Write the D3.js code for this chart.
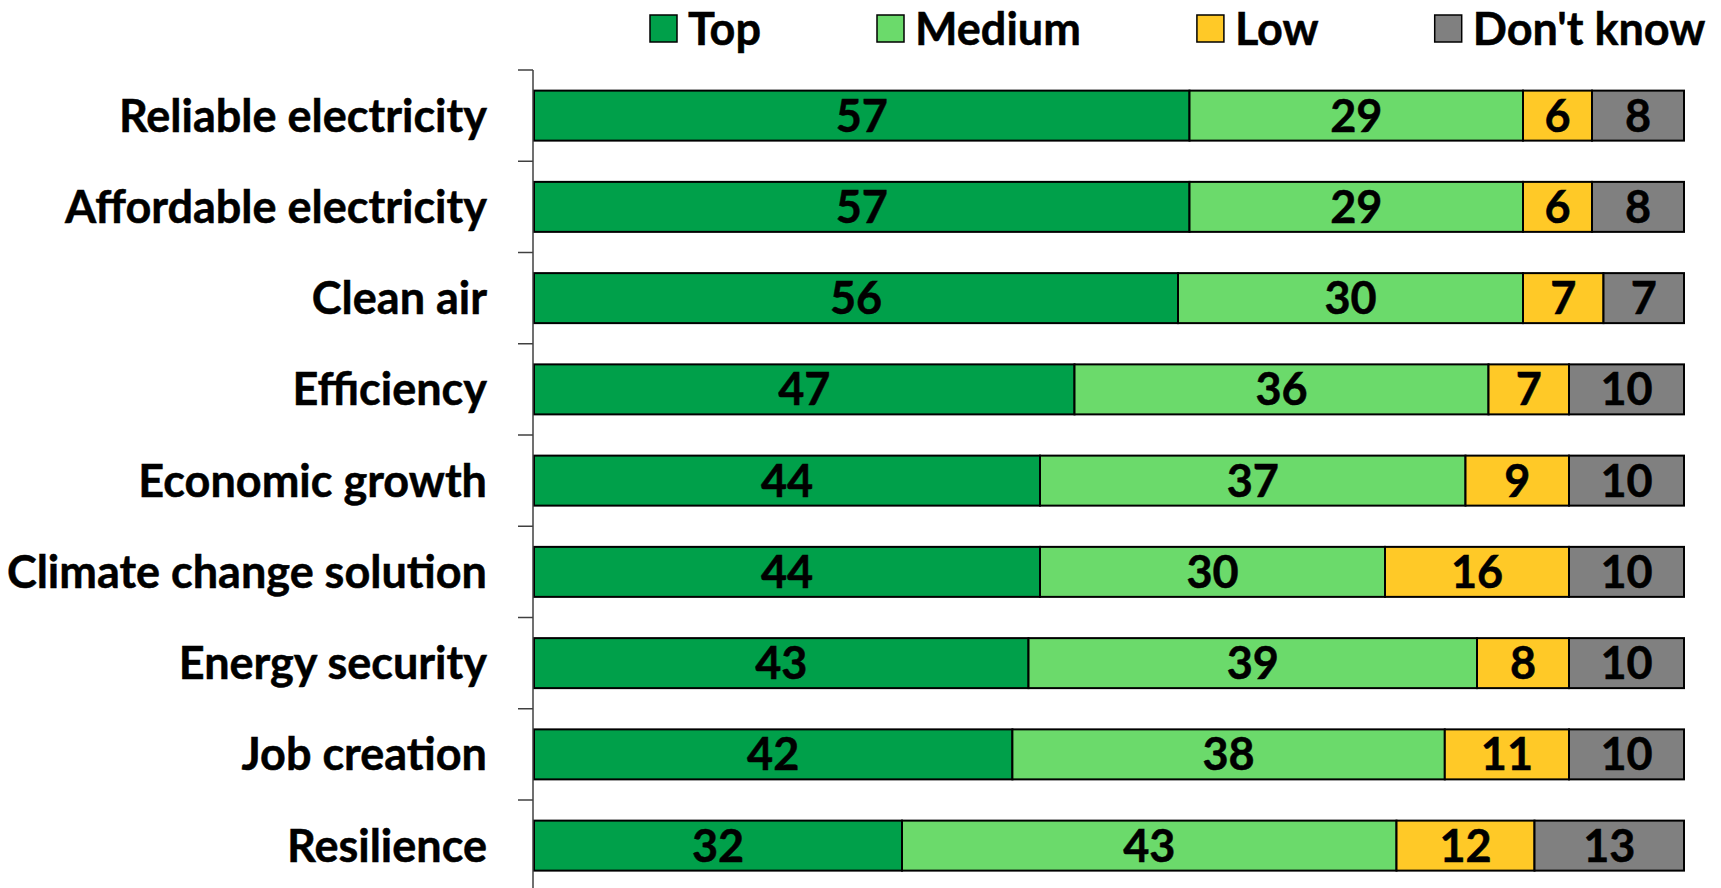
<!DOCTYPE html>
<html>
<head>
<meta charset="utf-8">
<script src="https://cdn.jsdelivr.net/npm/d3@7"></script>
<style>
  body { margin: 0; background: #fff; }
  text { font-family: Lato, "Open Sans", sans-serif; font-weight: bold; fill: #000; stroke: #000; stroke-width: 0.5px; }
</style>
</head>
<body>
<div id="chart"></div>
<script>

// Categories, top to bottom.
const categories = [
  "Reliable electricity",
  "Affordable electricity",
  "Clean air",
  "Efficiency",
  "Economic growth",
  "Climate change solution",
  "Energy security",
  "Job creation",
  "Resilience"
];

// Series names (legend order).
const seriesNames = ["Top", "Medium", "Low", "Don't know"];

// Share of answers (%) per series, one value per category.
const topValues      = [57, 57, 56, 47, 44, 44, 43, 41.6, 32];
const mediumValues   = [29, 29, 30, 36, 37, 30, 39, 37.6, 43];
const lowValues      = [6, 6, 7, 7, 9, 16, 8, 10.8, 12];
const dontKnowValues = [8, 8, 7, 10, 10, 10, 10, 10, 13];

const seriesColors = ["#00A04A", "#6BDA6B", "#FFC927", "#808080"];

// Dimensions.
const width = 1721, height = 888;
const margin = { top: 70, left: 534, right: 37 };
const fontSize = "45px";

const svg = d3.select("#chart")
  .append("svg")
  .attr("width", width)
  .attr("height", height);

// Build rows for the stack.
const rows = categories.map((c, i) => ({
  category: c,
  "Top": topValues[i],
  "Medium": mediumValues[i],
  "Low": lowValues[i],
  "Don't know": dontKnowValues[i]
}));

const stacked = d3.stack().keys(seriesNames)(rows);

const x = d3.scaleLinear()
  .domain([0, 100])
  .range([margin.left, width - margin.right]);

const y = d3.scaleBand()
  .domain(categories)
  .range([margin.top, margin.top + 91.25 * categories.length])
  .paddingInner(0.452)
  .paddingOuter(0.226);

const color = d3.scaleOrdinal()
  .domain(seriesNames)
  .range(seriesColors);

// Bars.
const layers = svg.selectAll("g.layer")
  .data(stacked)
  .join("g")
  .attr("class", "layer")
  .attr("fill", d => color(d.key));

layers.selectAll("rect")
  .data(d => d)
  .join("rect")
  .attr("x", d => x(d[0]))
  .attr("y", d => y(d.data.category))
  .attr("width", d => x(d[1]) - x(d[0]))
  .attr("height", y.bandwidth())
  .attr("stroke", "#000")
  .attr("stroke-width", 2);

// Value labels, centred in each segment.
layers.selectAll("text")
  .data(d => d)
  .join("text")
  .attr("x", d => (x(d[0]) + x(d[1])) / 2)
  .attr("y", d => y(d.data.category) + y.bandwidth() / 2 + 16)
  .attr("text-anchor", "middle")
  .style("font-size", fontSize)
  .text(d => d3.format(".0f")(d[1] - d[0]));

// Y axis: vertical line with ticks between categories.
const axisX = margin.left - 1;
svg.append("line")
  .attr("x1", axisX).attr("x2", axisX)
  .attr("y1", y.range()[0]).attr("y2", y.range()[1])
  .attr("stroke", "#404040")
  .attr("stroke-width", 1.5);

const tickYs = d3.range(categories.length + 1).map(i => y.range()[0] + i * y.step());
svg.selectAll("line.tick")
  .data(tickYs)
  .join("line")
  .attr("class", "tick")
  .attr("x1", axisX - 15).attr("x2", axisX)
  .attr("y1", d => d).attr("y2", d => d)
  .attr("stroke", "#404040")
  .attr("stroke-width", 1.5);

// Category labels.
svg.selectAll("text.cat")
  .data(categories)
  .join("text")
  .attr("class", "cat")
  .attr("x", 487)
  .attr("y", d => y(d) + y.bandwidth() / 2 + 16)
  .attr("text-anchor", "end")
  .style("font-size", fontSize)
  .text(d => d);

// Legend.
const legend = svg.append("g");
let lx = 650;
seriesNames.forEach(name => {
  legend.append("rect")
    .attr("x", lx).attr("y", 15)
    .attr("width", 27).attr("height", 27)
    .attr("fill", color(name))
    .attr("stroke", "#000")
    .attr("stroke-width", 1.5);
  const t = legend.append("text")
    .attr("x", lx + 38)
    .attr("y", 45)
    .style("font-size", fontSize)
    .text(name);
  lx += 38 + t.node().getComputedTextLength() + 116;
});

</script>
</body>
</html>
